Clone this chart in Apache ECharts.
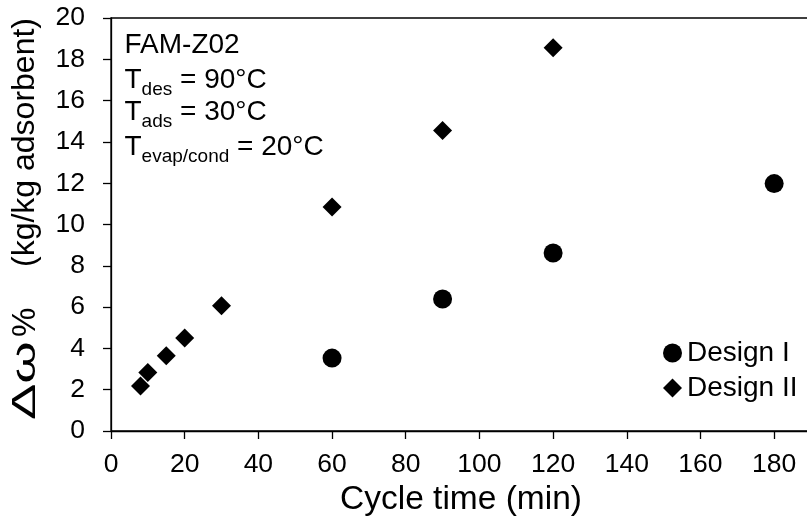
<!DOCTYPE html>
<html>
<head>
<meta charset="utf-8">
<script src="https://cdn.jsdelivr.net/npm/echarts@6/dist/echarts.min.js"></script>
<style>
  html, body { margin: 0; padding: 0; background: #fff; }
  #chart { width: 807px; height: 519px; }
</style>
</head>
<body>
<div id="chart"></div>
<script>
// Cycle time (min) and water uptake Δω% (kg/kg adsorbent), FAM-Z02
const design1Time = [60, 90, 120, 180];
const design1Uptake = [3.53, 6.39, 8.62, 11.98];

const design2Time = [8, 10, 15, 20, 30, 60, 90, 120];
const design2Uptake = [2.18, 2.83, 3.65, 4.50, 6.06, 10.85, 14.55, 18.56];

const seriesNames = ['Design I', 'Design II'];
const xTitle = 'Cycle time (min)';
const yTitleSymbol = 'Δω';
const yTitlePercent = '%';
const yTitleUnit = '(kg/kg adsorbent)';

const FONT = '"Liberation Sans", Arial, Helvetica, sans-serif';

function pairs(xs, ys) {
  return xs.map((x, i) => [x, ys[i]]);
}

// annotation block: material name and operating temperatures
const noteMain = { fontSize: 28, fontFamily: FONT, color: '#000', lineHeight: 38 };
const noteSub = { fontSize: 19, fontFamily: FONT, color: '#000', lineHeight: 19, padding: [19, 0, 0, 0] };
const noteLines = [
  { text: 'FAM-Z02', y: 45.4 },
  { text: '{m|T}{s|des}{m| = 90°C}', y: 80.4 },
  { text: '{m|T}{s|ads}{m| = 30°C}', y: 112.1 },
  { text: '{m|T}{s|evap/cond}{m| = 20°C}', y: 147.1 }
];

const noteGraphics = noteLines.map(line => ({
  type: 'text',
  x: 124.5,
  y: line.y,
  silent: true,
  style: {
    text: line.text,
    fontSize: 28,
    fontFamily: FONT,
    fill: '#000',
    verticalAlign: 'middle',
    align: 'left',
    rich: { m: noteMain, s: noteSub }
  }
}));

// vertical axis title, reading bottom to top, with a widened Greek symbol
const yTitleGraphic = {
  type: 'group',
  x: 25.5,
  y: 420,
  rotation: Math.PI / 2,
  silent: true,
  children: [
    {
      type: 'text', x: 0, y: 0, scaleX: 1.65,
      style: { text: yTitleSymbol, fontSize: 33, fontFamily: FONT, fill: '#000', verticalAlign: 'middle', align: 'left' }
    },
    {
      type: 'text', x: 83, y: 0,
      style: { text: yTitlePercent, fontSize: 33, fontFamily: FONT, fill: '#000', verticalAlign: 'middle', align: 'left' }
    },
    {
      type: 'text', x: 153, y: 0,
      style: { text: yTitleUnit, fontSize: 32, fontFamily: FONT, fill: '#000', verticalAlign: 'middle', align: 'left' }
    }
  ]
};

const chart = echarts.init(document.getElementById('chart'), null, { renderer: 'canvas' });

chart.setOption({
  animation: false,
  backgroundColor: '#fff',
  textStyle: { fontFamily: FONT, color: '#000' },
  grid: {
    left: 111, top: 18, width: 700, height: 413,
    outerBoundsMode: 'none',
    containLabel: false,
    show: true, borderColor: '#000', borderWidth: 1.3, backgroundColor: 'transparent'
  },
  legend: {
    orient: 'vertical',
    left: 658, top: 334,
    itemWidth: 19, itemHeight: 19, itemGap: 7,
    textStyle: { fontSize: 28, lineHeight: 28, color: '#000', fontFamily: FONT },
    data: [
      { name: seriesNames[0], icon: 'circle' },
      { name: seriesNames[1], icon: 'diamond' }
    ]
  },
  xAxis: {
    type: 'value',
    min: 0, max: 190, interval: 20,
    name: xTitle,
    nameLocation: 'middle',
    nameGap: 47,
    nameTextStyle: { fontSize: 33.5, color: '#000', fontFamily: FONT },
    axisLine: { show: true, onZero: false, lineStyle: { color: '#000', width: 1.3 } },
    axisTick: { show: true, inside: false, length: 8, lineStyle: { color: '#000', width: 1.3 } },
    axisLabel: { fontSize: 26.5, color: '#000', margin: 20, showMaxLabel: false, fontFamily: FONT },
    splitLine: { show: false }
  },
  yAxis: {
    type: 'value',
    min: 0, max: 20, interval: 2,
    axisLine: { show: true, onZero: false, lineStyle: { color: '#000', width: 1.3 } },
    axisTick: { show: true, inside: false, length: 8, lineStyle: { color: '#000', width: 1.3 } },
    axisLabel: { fontSize: 26.5, color: '#000', margin: 26, fontFamily: FONT },
    splitLine: { show: false }
  },
  series: [
    {
      name: seriesNames[0],
      type: 'scatter',
      symbol: 'circle',
      symbolSize: 19,
      itemStyle: { color: '#000', opacity: 1 },
      data: pairs(design1Time, design1Uptake)
    },
    {
      name: seriesNames[1],
      type: 'scatter',
      symbol: 'diamond',
      symbolSize: 19,
      itemStyle: { color: '#000', opacity: 1 },
      data: pairs(design2Time, design2Uptake)
    }
  ],
  graphic: noteGraphics.concat([yTitleGraphic])
});
</script>
</body>
</html>
